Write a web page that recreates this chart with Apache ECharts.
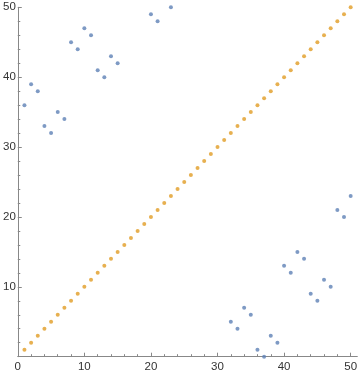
<!DOCTYPE html>
<html>
<head>
<meta charset="utf-8">
<script src="https://cdn.jsdelivr.net/npm/echarts@6/dist/echarts.min.js"></script>
<style>html,body{margin:0;padding:0;background:#fff}#c{width:360px;height:374px}</style>
</head>
<body>
<div id="c"></div>
<script>
// Data
var blueX = [1,2,3,4,5,6,7,8,9,10,11,12,13,14,15,20,21,23,32,33,34,35,36,37,38,39,40,41,42,43,44,45,46,47,48,49,50];
var blueY = [36,39,38,33,32,35,34,45,44,47,46,41,40,43,42,49,48,50,5,4,7,6,1,0,3,2,13,12,15,14,9,8,11,10,21,20,23];
var orangeX = [1,2,3,4,5,6,7,8,9,10,11,12,13,14,15,16,17,18,19,20,21,22,23,24,25,26,27,28,29,30,31,32,33,34,35,36,37,38,39,40,41,42,43,44,45,46,47,48,49,50];
var orangeY = [1,2,3,4,5,6,7,8,9,10,11,12,13,14,15,16,17,18,19,20,21,22,23,24,25,26,27,28,29,30,31,32,33,34,35,36,37,38,39,40,41,42,43,44,45,46,47,48,49,50];
var xTickLabels = [0,10,20,30,40,50];
var yTickLabels = [10,20,30,40,50];
var xMinorTicks = [2,4,6,8,12,14,16,18,22,24,26,28,32,34,36,38,42,44,46,48];
var yMinorTicks = [2,4,6,8,12,14,16,18,22,24,26,28,32,34,36,38,42,44,46,48];

function pairs(xs, ys){ return xs.map(function(x,i){ return [x, ys[i]]; }); }

var axisColor = '#888';
var labelStyle = {color:'#333', fontSize:11.5, fontFamily:'Liberation Sans'};
var chart = echarts.init(document.getElementById('c'), null, {renderer:'canvas'});
chart.setOption({
  animation:false,
  grid:{left:15, top:7.3, right:1.5, bottom:17.3, containLabel:false},
  xAxis:[{
    type:'value', min:0, max:51, position:'bottom',
    axisLine:{show:true, onZero:false, lineStyle:{color:axisColor, width:1}},
    axisTick:{show:true, inside:true, length:4, customValues:xTickLabels, lineStyle:{color:axisColor}},
    axisLabel:{show:true, margin:4, customValues:xTickLabels, color:labelStyle.color, fontSize:labelStyle.fontSize, fontFamily:labelStyle.fontFamily},
    splitLine:{show:false}
  },{
    type:'value', min:0, max:51, position:'bottom',
    axisLine:{show:false, onZero:false},
    axisTick:{show:true, inside:true, length:2.5, customValues:xMinorTicks, lineStyle:{color:axisColor}},
    axisLabel:{show:false},
    splitLine:{show:false}
  }],
  yAxis:[{
    type:'value', min:0, max:50, position:'left',
    axisLine:{show:true, onZero:false, lineStyle:{color:axisColor, width:1}},
    axisTick:{show:true, inside:true, length:4, customValues:[0,10,20,30,40,50], lineStyle:{color:axisColor}},
    axisLabel:{show:true, margin:2, customValues:yTickLabels, color:labelStyle.color, fontSize:labelStyle.fontSize, fontFamily:labelStyle.fontFamily},
    splitLine:{show:false}
  },{
    type:'value', min:0, max:50, position:'left',
    axisLine:{show:false, onZero:false},
    axisTick:{show:true, inside:true, length:2.5, customValues:yMinorTicks, lineStyle:{color:axisColor}},
    axisLabel:{show:false},
    splitLine:{show:false}
  }],
  series:[{
    type:'scatter', xAxisIndex:0, yAxisIndex:0,
    data:pairs(orangeX, orangeY), symbol:'circle', symbolSize:4,
    itemStyle:{color:'#E19C24'}, clip:true
  },{
    type:'scatter', xAxisIndex:0, yAxisIndex:0,
    data:pairs(blueX, blueY), symbol:'circle', symbolSize:4,
    itemStyle:{color:'#5E81B5'}, clip:true
  }]
});
</script>
</body>
</html>
